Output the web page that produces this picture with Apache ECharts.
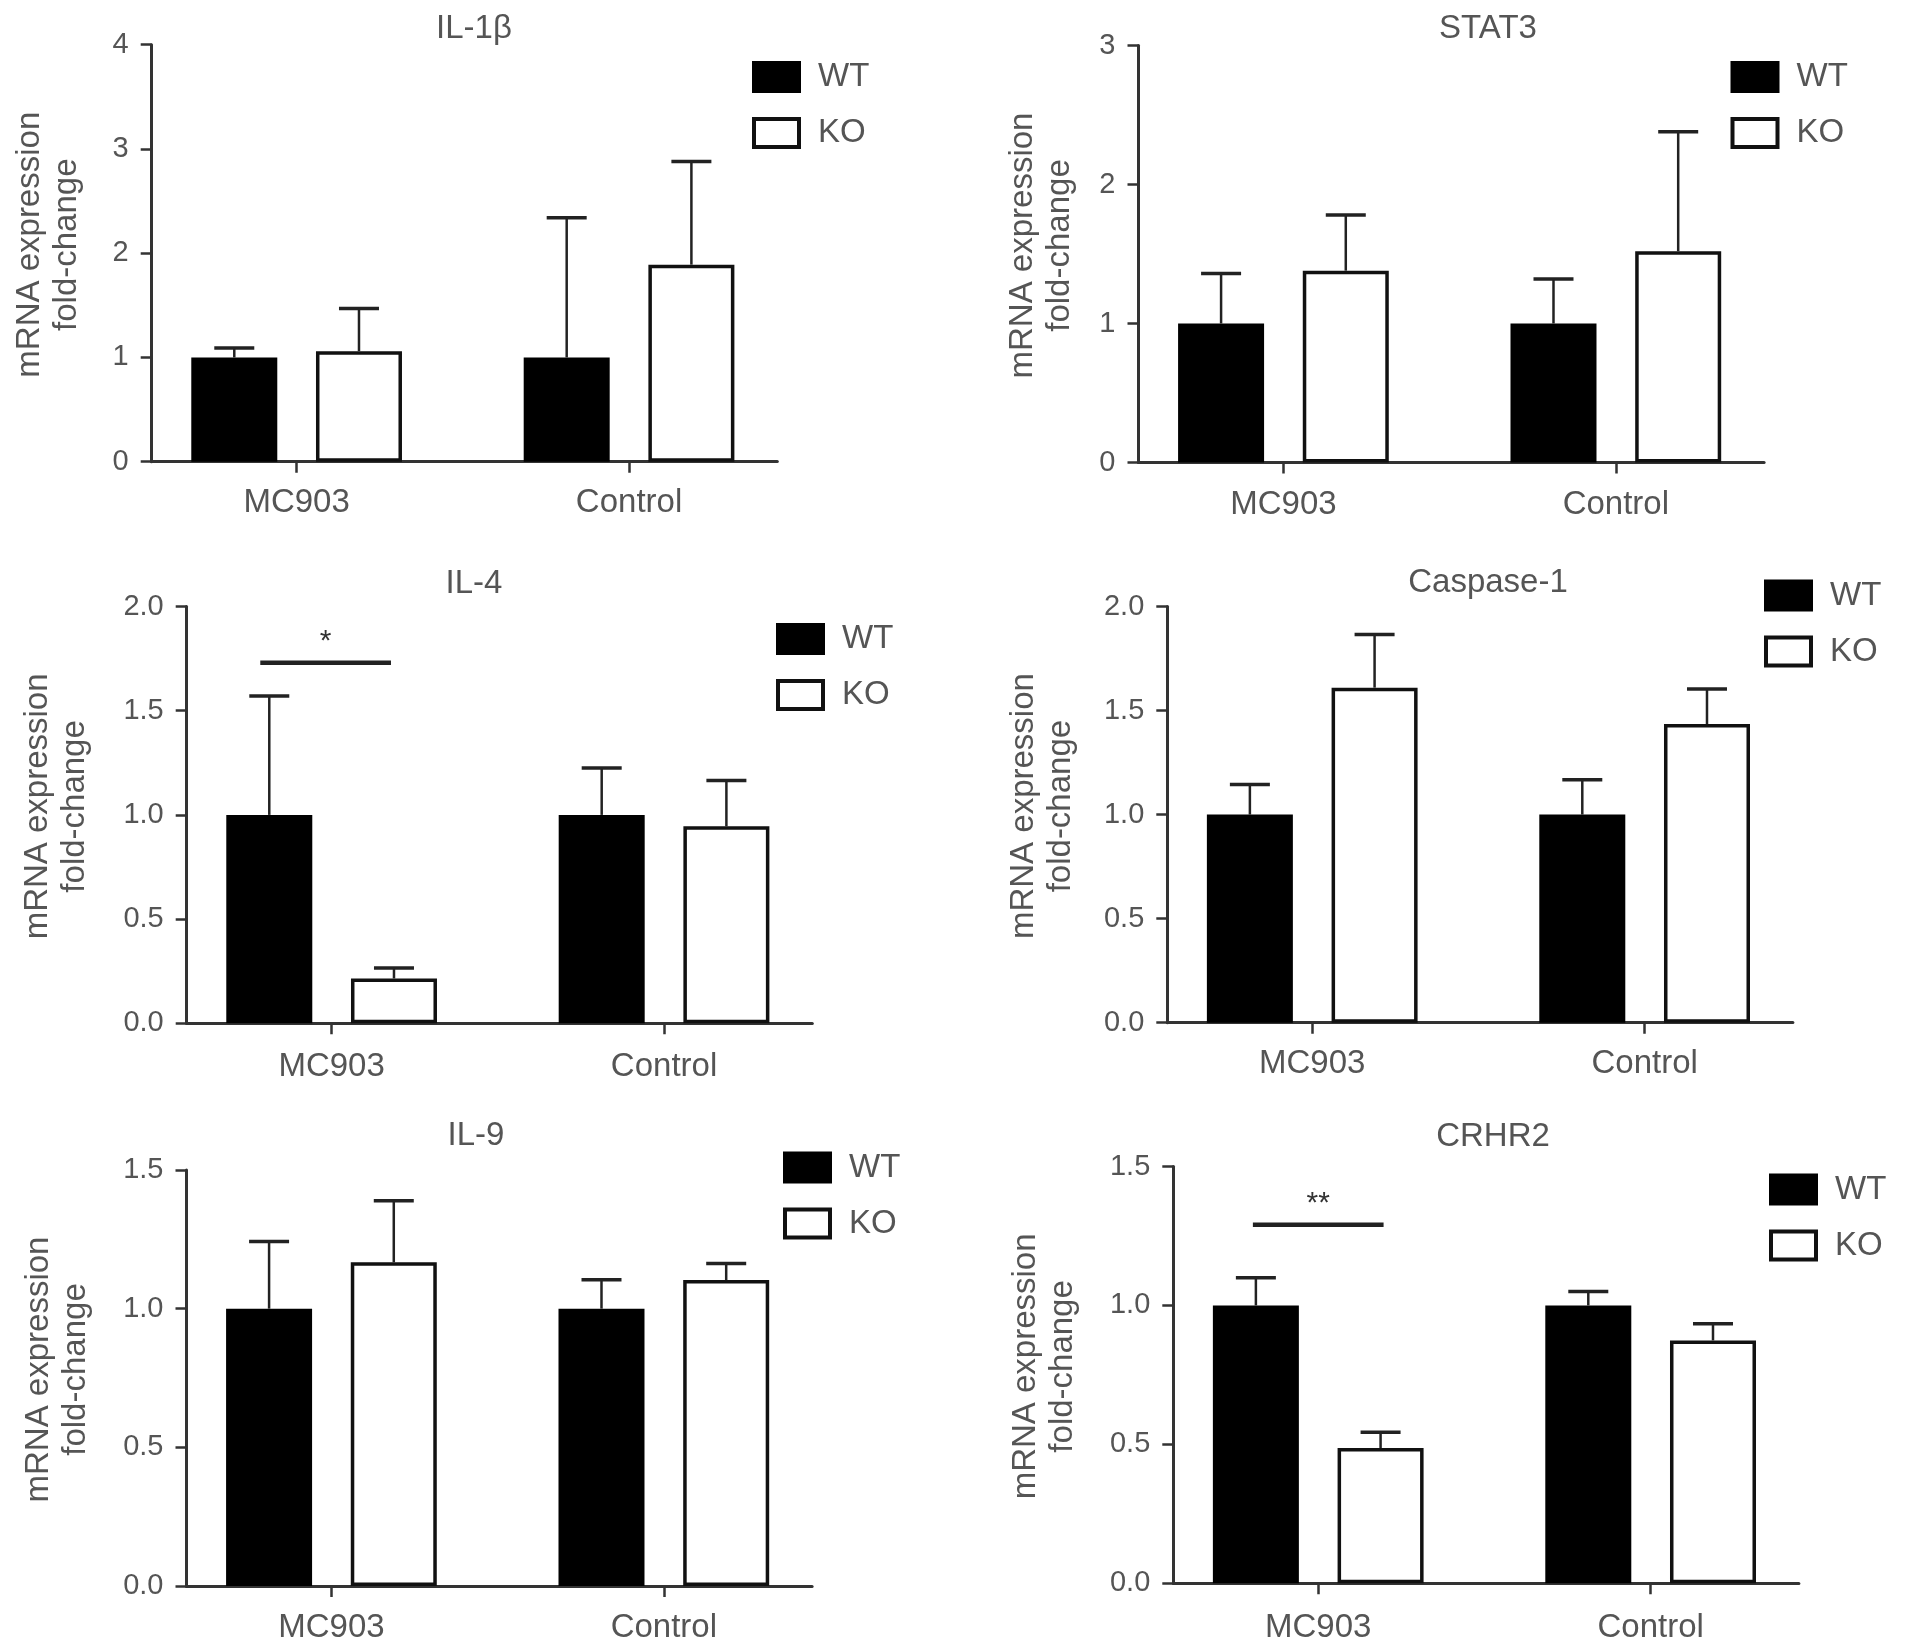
<!DOCTYPE html>
<html>
<head>
<meta charset="utf-8">
<script src="https://cdn.jsdelivr.net/npm/echarts@6/dist/echarts.min.js"></script>
<style>
html,body{margin:0;padding:0;background:#fff;}
#chart{width:1913px;height:1650px;}
</style>
</head>
<body>
<div id="chart"></div>
<script>
// ---------- DATA ----------
const categories = ['MC903', 'Control'];
const seriesNames = ['WT', 'KO'];
const panelTitles = ['IL-1β', 'STAT3', 'IL-4', 'Caspase-1', 'IL-9', 'CRHR2'];
const yAxisMax = [4, 3, 2, 2, 1.5, 1.5];
const yAxisInterval = [1, 1, 0.5, 0.5, 0.5, 0.5];
const yTickDecimals = [0, 0, 1, 1, 1, 1];
const yAxisName = 'mRNA expression\nfold-change';

// means and upper error (SD) per group [MC903, Control]
const il1bWT = [1.0, 1.0];       const il1bWTsd = [0.09, 1.34];
const il1bKO = [1.06, 1.89];     const il1bKOsd = [0.41, 0.99];

const stat3WT = [1.0, 1.0];      const stat3WTsd = [0.36, 0.32];
const stat3KO = [1.38, 1.52];    const stat3KOsd = [0.40, 0.86];

const il4WT = [1.0, 1.0];        const il4WTsd = [0.57, 0.225];
const il4KO = [0.215, 0.945];    const il4KOsd = [0.05, 0.22];

const casp1WT = [1.0, 1.0];      const casp1WTsd = [0.145, 0.168];
const casp1KO = [1.61, 1.435];   const casp1KOsd = [0.255, 0.168];

const il9WT = [1.0, 1.0];        const il9WTsd = [0.242, 0.104];
const il9KO = [1.167, 1.103];    const il9KOsd = [0.222, 0.06];

const crhr2WT = [1.0, 1.0];      const crhr2WTsd = [0.1, 0.05];
const crhr2KO = [0.487, 0.874];  const crhr2KOsd = [0.057, 0.06];

// significance brackets: [group index, height], marker text
const il4Sig = [0, 1.73];        const il4SigMark = '*';
const crhr2Sig = [0, 1.29];      const crhr2SigMark = '**';

const wtMeans = [il1bWT, stat3WT, il4WT, casp1WT, il9WT, crhr2WT];
const wtSDs   = [il1bWTsd, stat3WTsd, il4WTsd, casp1WTsd, il9WTsd, crhr2WTsd];
const koMeans = [il1bKO, stat3KO, il4KO, casp1KO, il9KO, crhr2KO];
const koSDs   = [il1bKOsd, stat3KOsd, il4KOsd, casp1KOsd, il9KOsd, crhr2KOsd];
const sigPoints = [null, null, il4Sig, null, null, crhr2Sig];
const sigMarks  = [null, null, il4SigMark, null, null, crhr2SigMark];

// ---------- LAYOUT / STYLE ----------
const X_MIN = -0.436, X_MAX = 1.446, GRID_W = 625.6;
const layouts = [
  {left:151.7, top:44.7,   height:417,   titleX:474,  titleY:12.5, legendX:752,   legendY:60.5,  nameGap:66, sigShift:0,  labelMargin:24.5},
  {left:1138.5,top:45.5,   height:417,   titleX:1488, titleY:12.5, legendX:1730.5,legendY:60.5,  nameGap:60, sigShift:0,  labelMargin:25.5},
  {left:186.7, top:606.5,  height:416.8, titleX:474,  titleY:567,  legendX:776,   legendY:622.5, nameGap:93, sigShift:-6, labelMargin:27},
  {left:1167.3,top:606.5,  height:416.2, titleX:1488, titleY:566,  legendX:1764,  legendY:579,   nameGap:88, sigShift:0,  labelMargin:24.5},
  {left:186.5, top:1170,   height:416,   titleX:476,  titleY:1119, legendX:783,   legendY:1151,  nameGap:92, sigShift:0,  labelMargin:25.5},
  {left:1173.3,top:1166.5, height:416.8, titleX:1493, titleY:1120, legendX:1769,  legendY:1173,  nameGap:92, sigShift:0,  labelMargin:28}
];
const FONT = "'Liberation Sans', Arial, Helvetica, sans-serif";
const TEXT_COLOR = '#555';
const AXIS_COLOR = '#333';
const BAR_WIDTH = 86;
const BAR_GAP = '45%';
const CENTER_OFFSET = (BAR_WIDTH + BAR_WIDTH * 0.45) / 2;
const CAP_HALF = 20;
const SIG_EXTEND = 3;

function errRenderer(offset) {
  return function (params, api) {
    const g = api.value(0), m = api.value(1), sd = api.value(2);
    const base = api.coord([g, m]);
    const top = api.coord([g, m + sd]);
    const x = base[0] + offset;
    return {
      type: 'group',
      children: [
        {type: 'line', shape: {x1: x, y1: base[1], x2: x, y2: top[1]},
         style: {stroke: '#222', lineWidth: 2.5}},
        {type: 'line', shape: {x1: x - CAP_HALF, y1: top[1], x2: x + CAP_HALF, y2: top[1]},
         style: {stroke: '#222', lineWidth: 3.5}}
      ]
    };
  };
}

function sigRenderer(mark, shift) {
  return function (params, api) {
    const p = api.coord([api.value(0), api.value(1)]);
    const cx = p[0] + shift;
    const x1 = cx - CENTER_OFFSET - SIG_EXTEND, x2 = cx + CENTER_OFFSET + SIG_EXTEND;
    return {
      type: 'group',
      children: [
        {type: 'line', shape: {x1: x1, y1: p[1], x2: x2, y2: p[1]},
         style: {stroke: '#222', lineWidth: 4.5}},
        {type: 'text', x: cx, y: p[1] - 6,
         style: {text: mark, align: 'center', verticalAlign: 'bottom',
                 font: '30px ' + FONT, fill: '#333'}}
      ]
    };
  };
}

const option = {
  backgroundColor: '#fff',
  animation: false,
  textStyle: {fontFamily: FONT},
  title: [], grid: [], xAxis: [], yAxis: [], legend: [], series: []
};

layouts.forEach(function (L, i) {
  option.title.push({
    text: panelTitles[i], left: L.titleX, top: L.titleY, textAlign: 'center', padding: 0,
    textStyle: {fontFamily: FONT, fontSize: 33, fontWeight: 'normal', color: TEXT_COLOR}
  });
  option.grid.push({left: L.left, top: L.top, width: GRID_W, height: L.height,
                    containLabel: false, outerBoundsMode: 'none'});
  option.xAxis.push({
    gridIndex: i, type: 'value', min: X_MIN, max: X_MAX,
    axisLine: {show: true, onZero: false, lineStyle: {color: AXIS_COLOR, width: 3}},
    axisTick: {show: true, customValues: [0, 1], length: 11, lineStyle: {color: AXIS_COLOR, width: 2.5}},
    axisLabel: {show: true, customValues: [0, 1], margin: L.labelMargin,
                formatter: function (v) { return categories[Math.round(v)]; },
                fontFamily: FONT, fontSize: 33, color: TEXT_COLOR},
    splitLine: {show: false}
  });
  option.yAxis.push({
    gridIndex: i, type: 'value', min: 0, max: yAxisMax[i], interval: yAxisInterval[i],
    axisLine: {show: true, onZero: false, lineStyle: {color: AXIS_COLOR, width: 3}},
    axisTick: {show: true, length: 11, lineStyle: {color: AXIS_COLOR, width: 2.5}},
    axisLabel: {margin: 23, fontFamily: FONT, fontSize: 29, color: TEXT_COLOR,
                formatter: function (v) { return v.toFixed(yTickDecimals[i]); }},
    splitLine: {show: false},
    name: yAxisName, nameLocation: 'middle', nameGap: L.nameGap,
    nameTextStyle: {fontFamily: FONT, fontSize: 33, color: TEXT_COLOR, lineHeight: 37, padding: [0, 0, 0, 17]}
  });
  option.legend.push({
    orient: 'vertical', left: L.legendX, top: L.legendY, padding: 0,
    itemWidth: 45, itemHeight: 28, itemGap: 23, icon: 'rect',
    data: seriesNames, selectedMode: false,
    itemStyle: {borderWidth: 4},
    textStyle: {fontFamily: FONT, fontSize: 33, color: TEXT_COLOR, lineHeight: 28, padding: [0, 0, 0, 14]}
  });
  option.series.push({
    name: 'WT', type: 'bar', xAxisIndex: i, yAxisIndex: i,
    barWidth: BAR_WIDTH, barGap: BAR_GAP,
    itemStyle: {color: '#000', borderColor: '#000', borderWidth: 0},
    data: wtMeans[i].map(function (v, k) { return [k, v]; })
  });
  option.series.push({
    name: 'KO', type: 'bar', xAxisIndex: i, yAxisIndex: i,
    barWidth: BAR_WIDTH, barGap: BAR_GAP,
    itemStyle: {color: '#fff', borderColor: '#111', borderWidth: 3.5},
    data: koMeans[i].map(function (v, k) { return [k, v]; })
  });
  option.series.push({
    type: 'custom', xAxisIndex: i, yAxisIndex: i, z: 5,
    renderItem: errRenderer(-CENTER_OFFSET),
    data: wtMeans[i].map(function (v, k) { return [k, v, wtSDs[i][k]]; })
  });
  option.series.push({
    type: 'custom', xAxisIndex: i, yAxisIndex: i, z: 5,
    renderItem: errRenderer(CENTER_OFFSET),
    data: koMeans[i].map(function (v, k) { return [k, v, koSDs[i][k]]; })
  });
  if (sigPoints[i]) {
    option.series.push({
      type: 'custom', xAxisIndex: i, yAxisIndex: i, z: 6,
      renderItem: sigRenderer(sigMarks[i], L.sigShift),
      data: [sigPoints[i]]
    });
  }
});

const chart = echarts.init(document.getElementById('chart'), null, {renderer: 'canvas'});
chart.setOption(option);
</script>
</body>
</html>
